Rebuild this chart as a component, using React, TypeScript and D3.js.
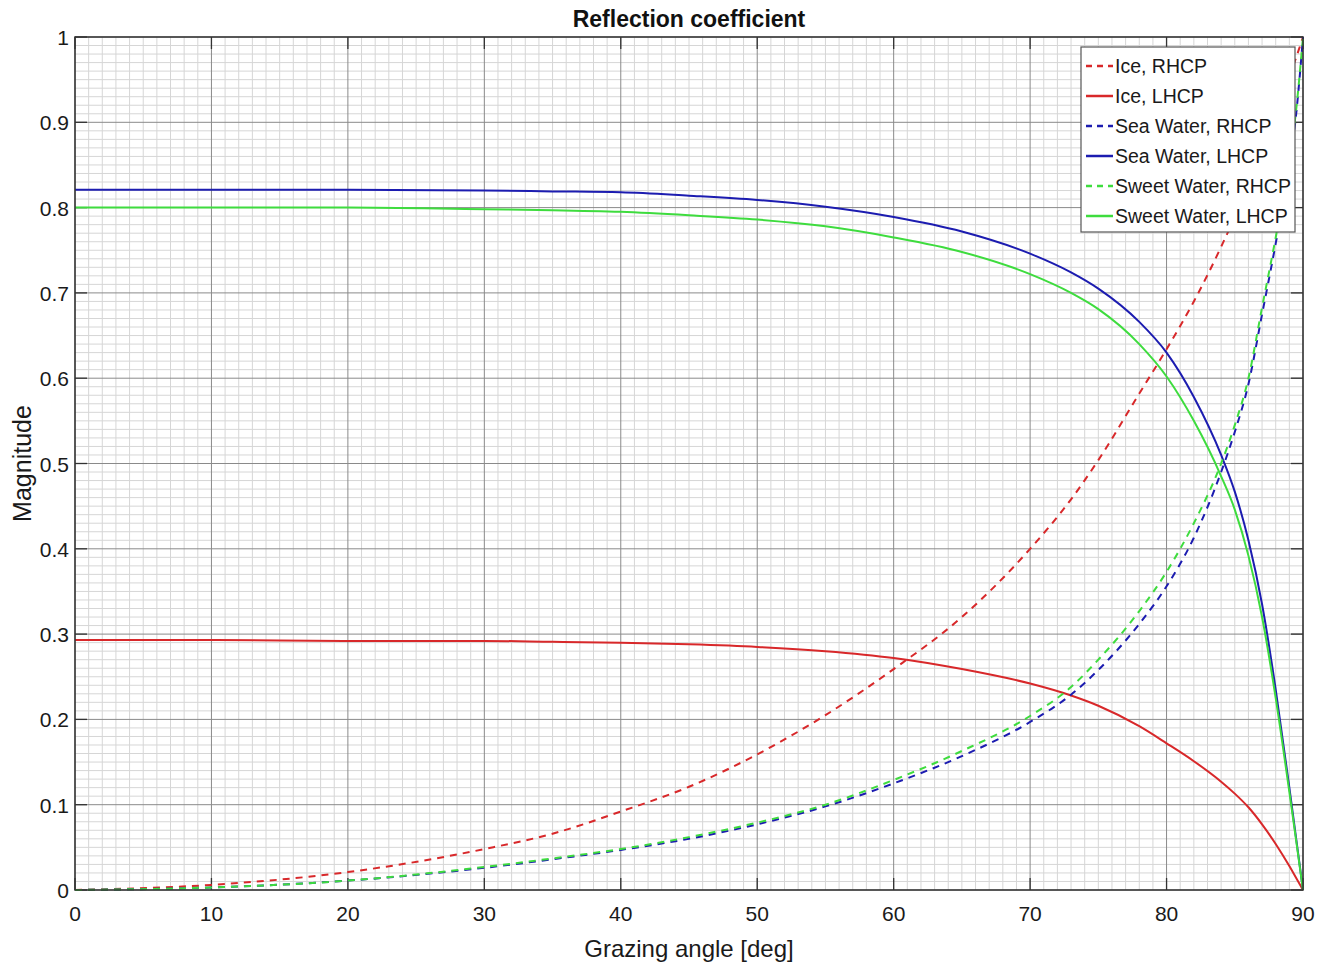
import React from 'react';
import * as d3 from 'd3';

// grazing angle samples [deg]
const angles = [0, 10, 20, 30, 35, 40, 45, 50, 55, 60, 65, 70, 73, 75, 78, 80, 82, 84, 85, 86, 87, 88, 89, 89.5, 90];

const iceRhcp = [0, 0.006, 0.021, 0.048, 0.066, 0.092, 0.121, 0.159, 0.205, 0.259, 0.32, 0.4, 0.458, 0.504, 0.582, 0.634, 0.69, 0.754, 0.789, 0.826, 0.866, 0.908, 0.953, 0.976, 1.0];
const iceLhcp = [0.293, 0.293, 0.292, 0.292, 0.291, 0.29, 0.288, 0.285, 0.28, 0.272, 0.259, 0.242, 0.228, 0.216, 0.192, 0.172, 0.151, 0.127, 0.113, 0.097, 0.077, 0.054, 0.028, 0.014, 0];
const seaRhcp = [0, 0.003, 0.011, 0.026, 0.036, 0.047, 0.06, 0.077, 0.098, 0.125, 0.157, 0.197, 0.229, 0.258, 0.312, 0.356, 0.413, 0.49, 0.537, 0.593, 0.675, 0.758, 0.85, 0.91, 1.0];
const seaLhcp = [0.821, 0.821, 0.821, 0.82, 0.819, 0.818, 0.814, 0.809, 0.801, 0.789, 0.772, 0.746, 0.724, 0.705, 0.666, 0.63, 0.578, 0.51, 0.467, 0.41, 0.335, 0.235, 0.12, 0.06, 0];
const sweetRhcp = [0, 0.003, 0.011, 0.027, 0.037, 0.048, 0.062, 0.079, 0.1, 0.129, 0.163, 0.204, 0.238, 0.27, 0.327, 0.373, 0.43, 0.5, 0.545, 0.6, 0.683, 0.765, 0.855, 0.915, 1.0];
const sweetLhcp = [0.8, 0.8, 0.8, 0.798, 0.797, 0.795, 0.791, 0.786, 0.778, 0.765, 0.748, 0.722, 0.7, 0.681, 0.64, 0.602, 0.55, 0.485, 0.446, 0.392, 0.32, 0.225, 0.115, 0.058, 0];

const xTicks = [0, 10, 20, 30, 40, 50, 60, 70, 80, 90];
const yTicks = [0, 0.1, 0.2, 0.3, 0.4, 0.5, 0.6, 0.7, 0.8, 0.9, 1];

const RED = '#d8282a';
const BLUE = '#1c1cb0';
const GREEN = '#3edc3e';

const series = [
  { name: 'Ice, RHCP', values: iceRhcp, color: RED, dashed: true },
  { name: 'Ice, LHCP', values: iceLhcp, color: RED, dashed: false },
  { name: 'Sea Water, RHCP', values: seaRhcp, color: BLUE, dashed: true },
  { name: 'Sea Water, LHCP', values: seaLhcp, color: BLUE, dashed: false },
  { name: 'Sweet Water, RHCP', values: sweetRhcp, color: GREEN, dashed: true },
  { name: 'Sweet Water, LHCP', values: sweetLhcp, color: GREEN, dashed: false },
];

const W = 1319;
const H = 967;
const left = 75;
const right = 1303;
const top = 37;
const bottom = 890;

export default function App() {
  const x = d3.scaleLinear().domain([0, 90]).range([left, right]);
  const y = d3.scaleLinear().domain([0, 1]).range([bottom, top]);

  const line = d3
    .line<number>()
    .x((_, i) => x(angles[i]))
    .y(d => y(d))
    .curve(d3.curveMonotoneX);

  const minorX = d3.range(0, 91, 1).filter(v => v % 10 !== 0);
  const minorY = d3.range(0, 101, 1).filter(v => v % 10 !== 0).map(v => v / 100);

  const font = '"Liberation Sans", Arial, sans-serif';

  return (
    <svg width={W} height={H} style={{ position: 'absolute', left: 0, top: 0, background: '#fff' }} fontFamily={font}>
      {/* minor grid */}
      <g stroke="#d6d6d6" strokeWidth={1}>
        {minorX.map(v => (
          <line key={'mx' + v} x1={x(v)} x2={x(v)} y1={top} y2={bottom} />
        ))}
        {minorY.map(v => (
          <line key={'my' + v} x1={left} x2={right} y1={y(v)} y2={y(v)} />
        ))}
      </g>
      {/* major grid */}
      <g stroke="#8a8a8a" strokeWidth={1}>
        {xTicks.map(v => (
          <line key={'gx' + v} x1={x(v)} x2={x(v)} y1={top} y2={bottom} />
        ))}
        {yTicks.map(v => (
          <line key={'gy' + v} x1={left} x2={right} y1={y(v)} y2={y(v)} />
        ))}
      </g>
      {/* ticks */}
      <g stroke="#333" strokeWidth={1.3}>
        {xTicks.map(v => (
          <g key={'tx' + v}>
            <line x1={x(v)} x2={x(v)} y1={bottom} y2={bottom - 12} />
            <line x1={x(v)} x2={x(v)} y1={top} y2={top + 12} />
          </g>
        ))}
        {yTicks.map(v => (
          <g key={'ty' + v}>
            <line x1={left} x2={left + 12} y1={y(v)} y2={y(v)} />
            <line x1={right} x2={right - 12} y1={y(v)} y2={y(v)} />
          </g>
        ))}
      </g>
      {/* curves */}
      <g fill="none">
        {series.map(s => (
          <path
            key={s.name}
            d={line(s.values) || ''}
            stroke={s.color}
            strokeWidth={2}
            strokeDasharray={s.dashed ? '7,6' : undefined}
          />
        ))}
      </g>
      {/* axes box */}
      <rect x={left} y={top} width={right - left} height={bottom - top} fill="none" stroke="#333" strokeWidth={1.5} />
      {/* tick labels */}
      <g fontSize={21} fill="#1a1a1a">
        {xTicks.map(v => (
          <text key={'lx' + v} x={x(v)} y={bottom + 31} textAnchor="middle">
            {v}
          </text>
        ))}
        {yTicks.map(v => (
          <text key={'ly' + v} x={left - 6} y={y(v) + 8} textAnchor="end">
            {v}
          </text>
        ))}
      </g>
      <text x={(left + right) / 2} y={27} textAnchor="middle" fontSize={23} fontWeight="bold" fill="#111">
        Reflection coefficient
      </text>
      <text x={(left + right) / 2} y={957} textAnchor="middle" fontSize={24} fill="#1a1a1a">
        Grazing angle [deg]
      </text>
      <text transform={`translate(31, ${(top + bottom) / 2}) rotate(-90)`} textAnchor="middle" fontSize={25} fill="#1a1a1a">
        Magnitude
      </text>
      {/* legend */}
      <g>
        <rect x={1081} y={47} width={214} height={185} fill="#fff" stroke="#555" strokeWidth={1.2} />
        {series.map((s, i) => (
          <g key={'lg' + s.name} transform={`translate(1086, ${66 + i * 30})`}>
            <line x1={0} x2={27} y1={0} y2={0} stroke={s.color} strokeWidth={2.5} strokeDasharray={s.dashed ? '6,5' : undefined} />
            <text x={29} y={7} fontSize={19.5} fill="#1a1a1a">
              {s.name}
            </text>
          </g>
        ))}
      </g>
    </svg>
  );
}
